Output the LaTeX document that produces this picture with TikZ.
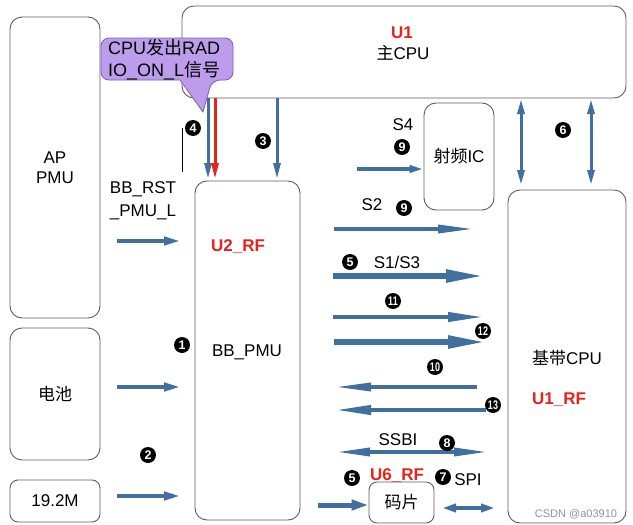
\documentclass[tikz,border=0pt]{standalone}
\usepackage{fontspec}
\usepackage{graphicx}
\setmainfont{Liberation Sans}
\newfontfamily\cjk{Noto Sans CJK SC}
\usetikzlibrary{arrows.meta}
\definecolor{boxc}{HTML}{5E5E5E}
\definecolor{arrc}{HTML}{41709F}
\definecolor{redc}{HTML}{E5251C}
\definecolor{purp}{HTML}{BD9DEB}
\definecolor{purpline}{HTML}{7E5DB3}
\begin{document}
\begin{tikzpicture}[x=1pt,y=-1pt,
  font=\fontsize{17}{20}\selectfont,
  box/.style={draw=boxc, line width=0.9pt, rounded corners=12pt, inner sep=0pt, align=center},
  sbox/.style={box, rounded corners=8pt},
  lbl/.style={inner sep=0pt, align=center},
  rlbl/.style={lbl, text=redc, font=\fontsize{17}{20}\selectfont\bfseries},
  num/.style={circle, fill=black, text=white, inner sep=0pt, minimum size=16pt, font=\fontsize{12.5}{12.5}\selectfont\bfseries},
  ba/.style n args={3}{draw=arrc, line width=#1, -{Triangle[length=#2,width=#3]}},
  bab/.style n args={3}{draw=arrc, line width=#1, {Triangle[length=#2,width=#3]}-{Triangle[length=#2,width=#3]}},
  callout/.style={draw=purpline, fill=purp, line width=0.8pt}
]
\useasboundingbox (0,0) rectangle (633,525);
\fill[white] (0,0) rectangle (633,525);

% boxes
\node[box, minimum width=90, minimum height=301] (ap) at (55,167.5) {AP\\PMU};
\node[box, minimum width=90, minimum height=132] (bat) at (55,394) {\cjk 电池};
\node[sbox, minimum width=90, minimum height=42] (clk) at (55,501) {19.2M};
\node[box, minimum width=444, minimum height=92] (u1) at (404,52) {};
\node[box, minimum width=105, minimum height=339] (u2) at (247.5,350.5) {};
\node[box, minimum width=70, minimum height=107] (rf) at (459,156.5) {{\cjk 射频}IC};
\node[box, minimum width=118, minimum height=333] (bb) at (567,356.5) {};
\node[sbox, minimum width=65, minimum height=41] (chip) at (401.5,502.5) {\cjk 码片};

% labels
\node[rlbl] (tu1) at (402,33) {U1};
\node[lbl] (tcpu) at (403,53) {{\cjk 主}CPU};
\node[rlbl] (tu2) at (238,247) {U2\_RF};
\node[lbl] (tpmu) at (247,352) {BB\_PMU};
\node[lbl] (tbb) at (567,358) {{\cjk 基带}CPU};
\node[rlbl] (tu1rf) at (559,400) {U1\_RF};
\node[lbl, font=\fontsize{17}{23}\selectfont] (trst) at (143,201) {BB\_RST\\\_PMU\_L};
\node[lbl] (ts4) at (403,125) {S4};
\node[lbl] (ts2) at (372,205) {S2};
\node[lbl] (ts13) at (397,262) {S1/S3};
\node[lbl] (tssbi) at (398,440) {SSBI};
\node[rlbl] (tu6) at (397,476) {U6\_RF};
\node[lbl] (tspi) at (468,480) {SPI};
\node[lbl, text=gray!85, font=\fontsize{11}{12}\selectfont] (wm) at (576,514) {CSDN @a03910};

% coordinates
\coordinate (v4a) at (208,98);  \coordinate (v4b) at (208,179);
\coordinate (vra) at (215,98);  \coordinate (vrb) at (215,179);
\coordinate (v3a) at (277,98);  \coordinate (v3b) at (277,179);
\coordinate (v6a) at (521,99);  \coordinate (v6b) at (521,185);
\coordinate (v6c) at (591,99);  \coordinate (v6d) at (591,185);
\coordinate (hra) at (117,241); \coordinate (hrb) at (181,241);
\coordinate (hba) at (117,387); \coordinate (hbb) at (181,387);
\coordinate (hca) at (117,496); \coordinate (hcb) at (181,496);
\coordinate (s4a) at (357,169); \coordinate (s4b) at (rf.west |- s4a);
\coordinate (s2a) at (334,229); \coordinate (s2b) at (474,229);
\coordinate (s1a) at (333,276); \coordinate (s1b) at (484,276);
\coordinate (e11a) at (333,317); \coordinate (e11b) at (484,317);
\coordinate (e12a) at (334,342); \coordinate (e12b) at (486,342);
\coordinate (e10a) at (477,387); \coordinate (e10b) at (335,387);
\coordinate (e13a) at (486,410); \coordinate (e13b) at (335,410);
\coordinate (ssa) at (336,452); \coordinate (ssb) at (488,452);
\coordinate (cha) at (318,505); \coordinate (chb) at (chip.west |- cha);
\coordinate (spa) at (442,508); \coordinate (spb) at (495,508);
\coordinate (ln1) at (182,128); \coordinate (ln2) at (182,172);

% arrows
\draw[ba={3pt}{16pt}{7pt}] (v4a) -- (v4b);
\draw[ba={3pt}{16pt}{7pt}, draw=redc] (vra) -- (vrb);
\draw[ba={3pt}{16pt}{7pt}] (v3a) -- (v3b);
\draw[bab={3pt}{15pt}{7pt}] (v6a) -- (v6b);
\draw[bab={3pt}{15pt}{7pt}] (v6c) -- (v6d);
\draw[ba={4pt}{17pt}{8pt}] (hra) -- (hrb);
\draw[ba={4pt}{17pt}{8pt}] (hba) -- (hbb);
\draw[ba={4pt}{17pt}{8pt}] (hca) -- (hcb);
\draw[ba={3.5pt}{14pt}{7pt}] (s4a) -- (s4b);
\draw[ba={3.5pt}{36pt}{8pt}] (s2a) -- (s2b);
\draw[ba={5.5pt}{38pt}{12pt}] (s1a) -- (s1b);
\draw[ba={4pt}{36pt}{9pt}] (e11a) -- (e11b);
\draw[ba={5.5pt}{38pt}{12pt}] (e12a) -- (e12b);
\draw[ba={3.5pt}{36pt}{8pt}] (e10a) -- (e10b);
\draw[ba={4pt}{36pt}{9pt}] (e13a) -- (e13b);
\draw[bab={3.5pt}{34pt}{8pt}] (ssa) -- (ssb);
\draw[ba={5pt}{17pt}{10pt}] (cha) -- (chb);
\draw[bab={3.5pt}{14pt}{8pt}] (spa) -- (spb);
\draw[black, line width=1pt] (ln1) -- (ln2);

% numbered markers
\node[num] (n4) at (193,128) {4};
\node[num] (n3) at (263,141) {3};
\node[num] (n9a) at (402,147) {9};
\node[num] (n9b) at (404,208) {9};
\node[num] (n5a) at (350,262) {5};
\node[num] (n11) at (393,301) {\scalebox{0.72}[1]{11}};
\node[num] (n12) at (483,331) {\scalebox{0.72}[1]{12}};
\node[num] (n10) at (435,367) {\scalebox{0.72}[1]{10}};
\node[num] (n13) at (493,405) {\scalebox{0.72}[1]{13}};
\node[num] (n8) at (447,443) {8};
\node[num] (n5b) at (352,478) {5};
\node[num] (n7) at (443,477) {7};
\node[num] (n6) at (563,130) {6};
\node[num] (n1) at (182,345) {1};
\node[num] (n2) at (148,455) {2};

% callout
\draw[callout] [rounded corners=8pt] (101,59) |- (233,38) |- (212,80) [sharp corners] -- (203,112) -- (180,80) [rounded corners=8pt] -| (101,59) -- cycle;
\node[lbl, align=left, anchor=west, font=\fontsize{18}{22}\selectfont] (tcall) at (108,60) {CPU{\cjk 发出}RAD\\IO\_ON\_L{\cjk 信号}};
\end{tikzpicture}
\end{document}
